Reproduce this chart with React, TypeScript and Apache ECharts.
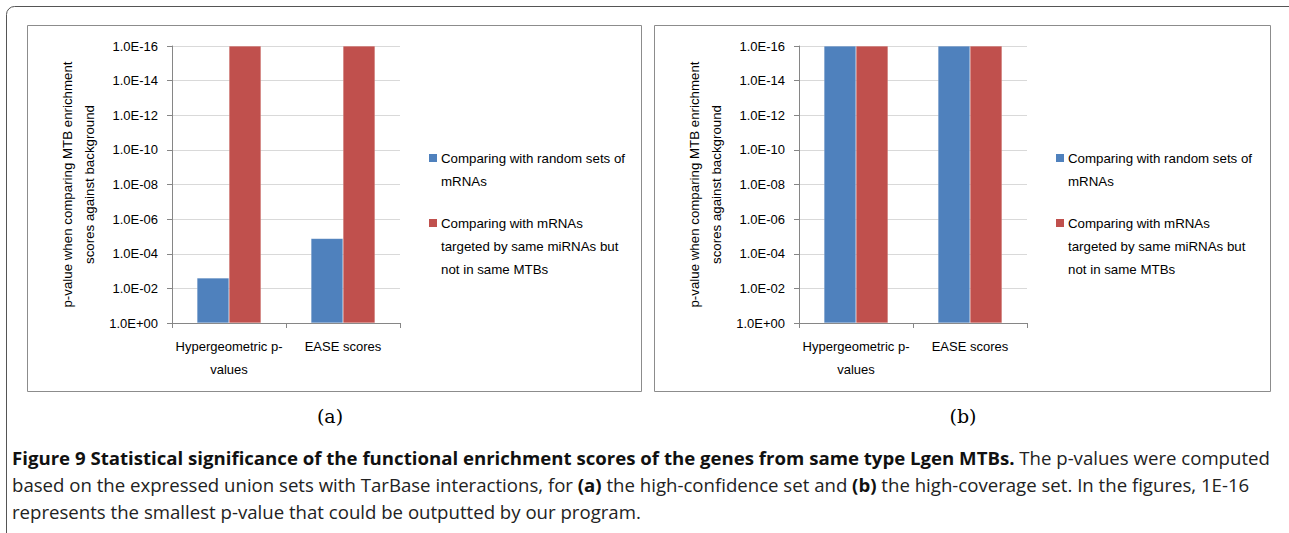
import React, { useEffect, useRef } from "react";
import * as echarts from "echarts";

const categories = ["Hypergeometric p-\nvalues", "EASE scores"];
const seriesNames = [
  "Comparing with random sets of mRNAs",
  "Comparing with mRNAs targeted by same miRNAs but not in same MTBs",
];
const legendLines = [
  ["Comparing with random sets of", "mRNAs"],
  ["Comparing with mRNAs", "targeted by same miRNAs but", "not in same MTBs"],
];
// p-values
const panelA_random = [2.5e-3, 1.3e-5];
const panelA_sameMiRNA = [1e-16, 1e-16];
const panelB_random = [1e-16, 1e-16];
const panelB_sameMiRNA = [1e-16, 1e-16];
const yTicks = ["1.0E+00", "1.0E-02", "1.0E-04", "1.0E-06", "1.0E-08", "1.0E-10", "1.0E-12", "1.0E-14", "1.0E-16"];
const panelLabels = ["(a)", "(b)"];
const yTitle = "p-value when comparing MTB enrichment\nscores against background";
const captionBold1 = "Figure 9 Statistical significance of the functional enrichment scores of the genes from same type Lgen MTBs.";
const captionReg1 = " The p-values were computed";

const BLUE = "#4f81bd";
const RED = "#c0504d";
const FONT = "'Liberation Sans', Arial, sans-serif";
const CAP_FONT = "'Open Sans', 'Noto Sans', sans-serif";

const toExp = (p: number) => -Math.log10(p);

function measure(text: string, font: string) {
  const c = document.createElement("canvas").getContext("2d");
  if (!c) return text.length * 8;
  c.font = font;
  return c.measureText(text).width;
}

export default function App() {
  const ref = useRef<HTMLDivElement>(null);
  useEffect(() => {
    if (!ref.current) return;
    const chart = echarts.init(ref.current, null, { renderer: "svg" });
    const grids = [
      { left: 172, top: 46, width: 228, height: 277 },
      { left: 799, top: 46, width: 228, height: 277 },
    ];
    const xAxis = grids.map((_, i) => ({
      type: "category",
      gridIndex: i,
      data: categories,
      axisLine: { lineStyle: { color: "#868686", width: 1 } },
      axisTick: { show: true, length: 5, lineStyle: { color: "#868686" } },
      axisLabel: { fontFamily: FONT, fontSize: 13, color: "#000", lineHeight: 23, margin: 12, interval: 0 },
    }));
    const yAxis = grids.map((_, i) => ({
      type: "value",
      gridIndex: i,
      min: 0,
      max: 16,
      interval: 2,
      name: yTitle,
      nameLocation: "middle",
      nameRotate: 90,
      nameGap: 72,
      nameTextStyle: { fontFamily: FONT, fontSize: 13.3, color: "#000", lineHeight: 22 },
      axisLine: { show: true, lineStyle: { color: "#868686", width: 1 } },
      axisTick: { show: true, length: 5, lineStyle: { color: "#868686" } },
      splitLine: { lineStyle: { color: "#d9d9d9" } },
      axisLabel: {
        fontFamily: FONT,
        fontSize: 13,
        color: "#000",
        margin: 14,
        formatter: (v: number) => yTicks[Math.round(v / 2)],
      },
    }));
    const mk = (name: string, data: number[], color: string, idx: number) => ({
      type: "bar",
      name,
      xAxisIndex: idx,
      yAxisIndex: idx,
      data: data.map(toExp),
      barWidth: 32,
      barGap: "0%",
      itemStyle: { color, borderColor: "rgba(255,255,255,0.35)", borderWidth: 0.5 },
    });
    const series = [
      mk(seriesNames[0], panelA_random, BLUE, 0),
      mk(seriesNames[1], panelA_sameMiRNA, RED, 0),
      mk(seriesNames[0], panelB_random, BLUE, 1),
      mk(seriesNames[1], panelB_sameMiRNA, RED, 1),
    ];

    const legendGraphics: any[] = [];
    const legendX = [429, 1056];
    const startY = [158, 223];
    legendX.forEach((lx) => {
      legendLines.forEach((lines, k) => {
        legendGraphics.push({
          type: "rect",
          shape: { x: lx, y: startY[k] - 4, width: 8, height: 8 },
          style: { fill: k === 0 ? BLUE : RED },
        });
        lines.forEach((ln, j) => {
          legendGraphics.push({
            type: "text",
            x: lx + 12,
            y: startY[k] + j * 23,
            style: { text: ln, fontFamily: FONT, fontSize: 13.3, fill: "#000", verticalAlign: "middle" },
          });
        });
      });
    });

    const frames = [
      { type: "rect", shape: { x: 6.5, y: 6.5, width: 1320, height: 600, r: 8 }, style: { fill: "none", stroke: "#555", lineWidth: 1 } },
      { type: "rect", shape: { x: 27.5, y: 25.5, width: 614, height: 366 }, style: { fill: "none", stroke: "#8c8c8c", lineWidth: 1 } },
      { type: "rect", shape: { x: 654.5, y: 25.5, width: 616, height: 366 }, style: { fill: "none", stroke: "#8c8c8c", lineWidth: 1 } },
      { type: "text", x: 330, y: 416, style: { text: panelLabels[0], fontFamily: "'DejaVu Serif', 'Liberation Serif', serif", fontSize: 19, fill: "#000", align: "center", verticalAlign: "middle" } },
      { type: "text", x: 963, y: 416, style: { text: panelLabels[1], fontFamily: "'DejaVu Serif', 'Liberation Serif', serif", fontSize: 19, fill: "#000", align: "center", verticalAlign: "middle" } },
    ];

    // fit caption font size so the first line spans the same width as in the figure
    const w16 = measure(captionBold1, `bold 16px ${CAP_FONT}`) + measure(captionReg1, `16px ${CAP_FONT}`);
    const capSize = Math.max(12, Math.min(20, (16 * 1258) / w16));
    const capRich = {
      b: { fontFamily: CAP_FONT, fontSize: capSize, fontWeight: "bold", fill: "#111" },
      r: { fontFamily: CAP_FONT, fontSize: capSize, fill: "#222" },
    };
    const caption = [
      `{b|${captionBold1}}{r|${captionReg1}}`,
      "{r|based on the expressed union sets with TarBase interactions, for }{b|(a)}{r| the high-confidence set and }{b|(b)}{r| the high-coverage set. In the figures, 1E-16}",
      "{r|represents the smallest p-value that could be outputted by our program.}",
    ].map((t, i) => ({
      type: "text",
      x: 12,
      y: 457 + i * 27,
      style: { text: t, rich: capRich, verticalAlign: "middle", fontFamily: CAP_FONT, fontSize: capSize },
    }));

    chart.setOption({
      animation: false,
      backgroundColor: "#fff",
      grid: grids,
      xAxis,
      yAxis,
      series,
      graphic: [...frames, ...legendGraphics, ...caption],
    });
    return () => chart.dispose();
  }, []);
  return <div ref={ref} style={{ position: "fixed", left: 0, top: 0, width: 1289, height: 533 }} />;
}
